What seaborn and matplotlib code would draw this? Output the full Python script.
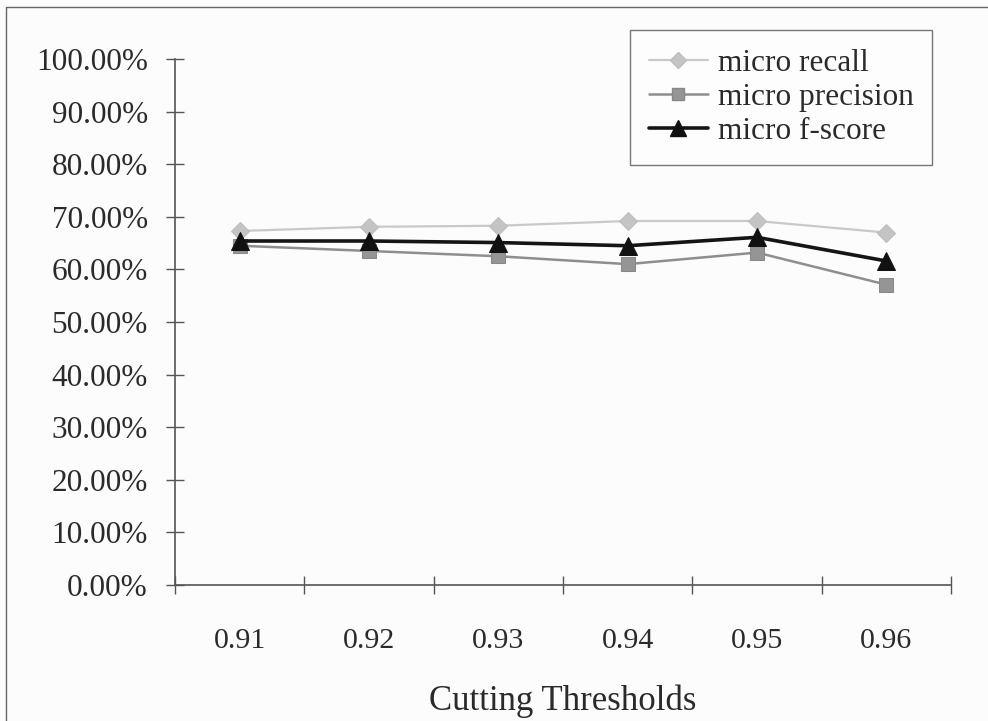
import numpy as np
import pandas as pd
import matplotlib
matplotlib.use("Agg")
import matplotlib.pyplot as plt
from matplotlib.lines import Line2D
import seaborn as sns

# Cutting thresholds and the micro-averaged scores (percent)
thresholds = ["0.91", "0.92", "0.93", "0.94", "0.95", "0.96"]
micro_recall = [67.3, 68.1, 68.3, 69.2, 69.2, 67.0]
micro_precision = [64.5, 63.5, 62.5, 61.0, 63.2, 57.1]
micro_fscore = [65.4, 65.4, 65.1, 64.5, 66.1, 61.6]
y_ticks = [0, 10, 20, 30, 40, 50, 60, 70, 80, 90, 100]
y_tick_labels = [f"{v:.2f}%" for v in y_ticks]

sns.set_theme(style="white")
plt.rcParams["font.family"] = ["Liberation Serif", "DejaVu Serif"]

W, H = 988, 721
fig = plt.figure(figsize=(W / 100, H / 100), dpi=100, facecolor="#fcfcfc")
ax = fig.add_axes([175 / W, 1 - 585 / H, (951 - 175) / W, (585 - 59) / H])
ax.set_facecolor("none")

series = [
    ("micro recall", micro_recall, dict(color="#c9c9c9", marker="D", markersize=9.5,
                                         markerfacecolor="#c4c4c4", markeredgecolor="#bdbdbd",
                                         linewidth=1.6)),
    ("micro precision", micro_precision, dict(color="#8e8e8e", marker="s", markersize=10,
                                               markerfacecolor="#959595", markeredgecolor="#888888",
                                               linewidth=1.8)),
    ("micro f-score", micro_fscore, dict(color="#151515", marker="^", markersize=13,
                                          markerfacecolor="#111111", markeredgecolor="#111111",
                                          linewidth=2.6)),
]

handles = []
for name, values, style in series:
    df = pd.DataFrame({"threshold": thresholds, "score": values})
    sns.lineplot(data=df, x="threshold", y="score", ax=ax, sort=False, **style)
    leg_style = dict(style)
    leg_style["markersize"] = style["markersize"] * 0.85
    handles.append(Line2D([], [], label=name, **leg_style))

ax.set_xlim(-0.5, len(thresholds) - 0.5)
ax.set_ylim(0, 100)

# y axis: percentage ticks crossing the axis line
ax.set_yticks(y_ticks)
ax.set_yticklabels(y_tick_labels)
ax.tick_params(axis="y", which="major", direction="inout", length=13, width=1.0,
               color="#555555", labelsize=22.5, pad=13, left=True, labelcolor="#2a2a2a")

# x axis: tick marks between categories, labels centred on categories
ax.set_xticks(np.arange(-0.5, len(thresholds), 1.0))
ax.set_xticklabels([])
ax.set_xticks(np.arange(len(thresholds)), minor=True)
ax.set_xticklabels(thresholds, minor=True)
ax.tick_params(axis="x", which="major", direction="inout", length=13, width=1.0,
               color="#555555", bottom=True)
ax.tick_params(axis="x", which="minor", length=0, labelsize=21.5, pad=31,
               labelcolor="#2a2a2a")

ax.set_xlabel("Cutting Thresholds", fontsize=25, color="#2a2a2a", labelpad=22)
ax.set_ylabel("")

for side in ("top", "right"):
    ax.spines[side].set_visible(False)
for side in ("left", "bottom"):
    ax.spines[side].set_color("#555555")
    ax.spines[side].set_linewidth(1.2)

leg = fig.legend(handles=handles, loc="upper left",
                 bbox_to_anchor=(630 / W, 1 - 30 / H), fontsize=22.5,
                 frameon=True, fancybox=False, edgecolor="#555555",
                 handlelength=1.9, handletextpad=0.3, labelspacing=0.17,
                 borderpad=0.6, borderaxespad=0)
leg.get_frame().set_linewidth(1.0)
leg.get_frame().set_facecolor("#fefefe")
for t in leg.get_texts():
    t.set_color("#2a2a2a")

# outer chart frame (top and left edges)
fig.add_artist(Line2D([6 / W, 1.0], [1 - 7 / H, 1 - 7 / H], transform=fig.transFigure,
                      color="#666666", linewidth=1.0))
fig.add_artist(Line2D([6 / W, 6 / W], [0.0, 1 - 7 / H], transform=fig.transFigure,
                      color="#666666", linewidth=1.0))

fig.savefig("out.png", dpi=100, facecolor=fig.get_facecolor())
